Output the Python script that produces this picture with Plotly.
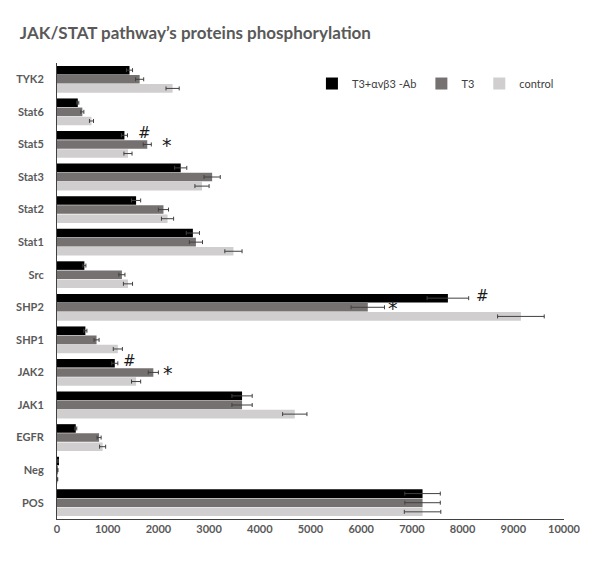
import plotly.graph_objects as go

# categories listed bottom to top (plotly draws the first category at the bottom)
proteins = ['POS', 'Neg', 'EGFR', 'JAK1', 'JAK2', 'SHP1', 'SHP2', 'Src',
            'Stat1', 'Stat2', 'Stat3', 'Stat5', 'Stat6', 'TYK2']

# T3 + avb3 antibody
ab_vals = [7210, 20, 370, 3650, 1140, 560, 7710, 540,
           2680, 1560, 2440, 1330, 410, 1430]
ab_err = [350, 5, 20, 200, 60, 30, 410, 30,
          130, 90, 120, 60, 20, 60]

# T3
t3_vals = [7210, 15, 830, 3650, 1900, 780, 6130, 1280,
           2740, 2100, 3060, 1780, 500, 1630]
t3_err = [350, 5, 40, 200, 100, 50, 330, 60,
          130, 100, 160, 80, 30, 80]

# control
ctrl_vals = [7210, 10, 900, 4690, 1560, 1200, 9150, 1400,
             3480, 2180, 2860, 1400, 680, 2280]
ctrl_err = [360, 5, 60, 240, 90, 90, 460, 90,
            170, 120, 140, 80, 40, 130]

# significance marks: (protein, x value, mark, which bar)
marks = [('Stat5', 1730, '#', 'ab'), ('Stat5', 2160, '*', 't3'),
         ('SHP2', 8400, '#', 'ab'), ('SHP2', 6620, '*', 't3'),
         ('JAK2', 1430, '#', 'ab'), ('JAK2', 2190, '*', 't3')]

err_col = '#404040'

fig = go.Figure()
fig.add_trace(go.Bar(
    y=proteins, x=ctrl_vals, orientation='h', name='control',
    marker=dict(color='#d0cece', line=dict(width=0)),
    error_x=dict(type='data', array=ctrl_err, color=err_col, thickness=1, width=2)
))
fig.add_trace(go.Bar(
    y=proteins, x=t3_vals, orientation='h', name='T3',
    marker=dict(color='#767171', line=dict(width=0)),
    error_x=dict(type='data', array=t3_err, color=err_col, thickness=1, width=2)
))
fig.add_trace(go.Bar(
    y=proteins, x=ab_vals, orientation='h', name='T3+αvβ3 -Ab',
    marker=dict(color='#000000', line=dict(width=0)),
    error_x=dict(type='data', array=ab_err, color=err_col, thickness=1, width=2)
))

for prot, xv, txt, which in marks:
    fig.add_annotation(
        x=xv, y=prot, xref='x', yref='y', text=txt, showarrow=False,
        yshift=11 if which == 'ab' else -1,
        font=dict(family='DejaVu Sans', size=15 if txt == '#' else 19, color='#1a1a1a')
    )

# the page puts the figure 8px in from the top-left corner, so size it to fit
fig.update_layout(
    title=dict(text='<b>JAK/STAT pathway’s proteins phosphorylation</b>',
               x=0.02, xanchor='left', y=0.955, yanchor='middle',
               yref='container', xref='container', pad=dict(l=0, t=0, b=0, r=0),
               font=dict(family='Lato', size=17, color='#595959')),
    barmode='group',
    bargap=0.16,
    bargroupgap=0.06,
    width=592,
    height=560,
    margin=dict(l=49, r=36, t=55, b=49, autoexpand=False),
    plot_bgcolor='white',
    paper_bgcolor='white',
    font=dict(family='Lato', size=11, color='#595959'),
    showlegend=True,
    legend=dict(orientation='h', x=0.99, y=0.955, xanchor='right', yanchor='middle',
                traceorder='reversed', font=dict(family='Lato', size=11, color='#404040'),
                itemwidth=30, bgcolor='rgba(0,0,0,0)'),
    xaxis=dict(range=[0, 10000], dtick=1000, tickformat='d', showgrid=False, zeroline=False,
               showline=True, linecolor='#404040', linewidth=1, ticks='', automargin=False,
               tickfont=dict(family='Lato', size=11, color='#595959')),
    yaxis=dict(showgrid=False, showline=True, linecolor='#404040', linewidth=1,
               ticks='', ticklabelstandoff=10, automargin=False,
               tickfont=dict(family='Lato', size=11, color='#595959')),
)

fig.update_xaxes(tickprefix='<b>', ticksuffix='</b>')
fig.update_yaxes(tickprefix='<b>', ticksuffix='</b>')

fig.write_html('out.html')
